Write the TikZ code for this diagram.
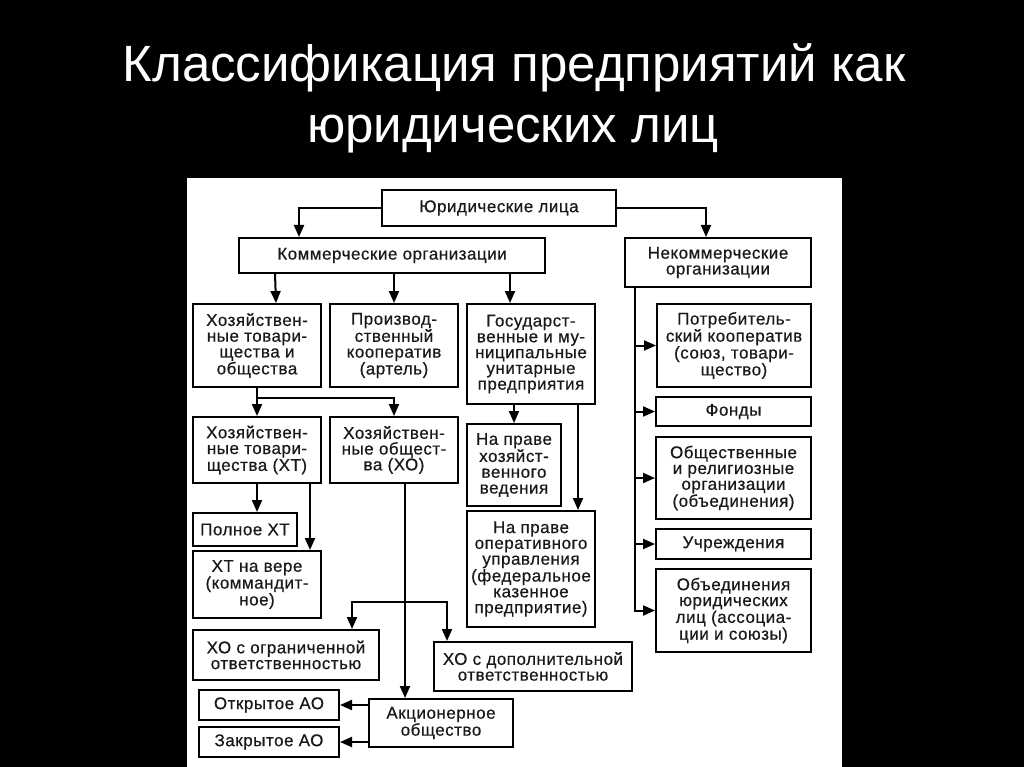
\documentclass[tikz,border=0pt]{standalone}
\usepackage{fontspec}
\setmainfont{Liberation Sans}
\newfontfamily\boxfont{Liberation Sans}[FakeBold=0.5,LetterSpace=3]
\usetikzlibrary{arrows.meta}
\begin{document}
\begin{tikzpicture}[x=1pt,y=-1pt,
  box/.style={draw=black, line width=2pt, fill=white, align=center, inner sep=0pt,
    font=\boxfont\fontsize{17}{15.8}\selectfont, text=black!90},
  arr/.style={line width=2pt, -{Triangle[length=12pt,width=10pt]}},
  ttl/.style={text=white, font=\fontsize{51}{60}\selectfont, anchor=base, inner sep=0pt}]
\useasboundingbox (0,0) rectangle (1024,767);
\fill[black] (0,0) rectangle (1024,767);
\fill[white] (187,178) rectangle (842,767);
\node[ttl] (t1) at (514,82) {Классификация предприятий как};
\node[ttl] (t2) at (513,143) {юридических лиц};
% boxes
\node[box, minimum width=234, minimum height=36] (jur) at (499,208) {Юридические лица};
\node[box, minimum width=306, minimum height=35] (kom) at (392,255.5) {Коммерческие организации};
\node[box, minimum width=186, minimum height=49] (nekom) at (718,262.5) {Некоммерческие\\организации};
\node[box, minimum width=128, minimum height=83] (hto) at (257,345.5) {Хозяйствен-\\ные товари-\\щества и\\общества};
\node[box, minimum width=128, minimum height=83] (pk) at (394,345.5) {Производ-\\ственный\\кооператив\\(артель)};
\node[box, minimum width=128, minimum height=100] (gmup) at (531,354) {Государст-\\венные и му-\\ниципальные\\унитарные\\предприятия};
\node[box, minimum width=154, minimum height=83] (potr) at (734,345.5) {Потребитель-\\ский кооператив\\(союз, товари-\\щество)};
\node[box, minimum width=155, minimum height=29] (fondy) at (733.5,411.5) {Фонды};
\node[box, minimum width=155, minimum height=82] (obsh) at (733.5,478) {Общественные\\и религиозные\\организации\\(объединения)};
\node[box, minimum width=155, minimum height=30] (uchr) at (733.5,544) {Учреждения};
\node[box, minimum width=155, minimum height=83] (obyed) at (733.5,610.5) {Объединения\\юридических\\лиц (ассоциа-\\ции и союзы)};
\node[box, minimum width=128, minimum height=66] (ht) at (257,450) {Хозяйствен-\\ные товари-\\щества (ХТ)};
\node[box, minimum width=128, minimum height=66] (ho) at (394,450) {Хозяйствен-\\ные общест-\\ва (ХО)};
\node[box, minimum width=94, minimum height=82] (phv) at (514,465) {На праве\\хозяйст-\\венного\\ведения};
\node[box, minimum width=128, minimum height=116] (pou) at (531,569) {На праве\\оперативного\\управления\\(федеральное\\казенное\\предприятие)};
\node[box, minimum width=104, minimum height=33] (polnoe) at (245,529.5) {Полное ХТ};
\node[box, minimum width=128, minimum height=67] (vera) at (257,584.5) {ХТ на вере\\(коммандит-\\ное)};
\node[box, minimum width=186, minimum height=50] (hoogr) at (286,655) {ХО с ограниченной\\ответственностью};
\node[box, minimum width=198, minimum height=49] (hodop) at (533,666.5) {ХО с дополнительной\\ответственностью};
\node[box, minimum width=144, minimum height=48] (ao) at (441,723) {Акционерное\\общество};
\node[box, minimum width=140, minimum height=30] (oao) at (269,705) {Открытое АО};
\node[box, minimum width=140, minimum height=30] (zao) at (269,742) {Закрытое АО};
% connectors
\draw[arr] (jur.west) -| ([xshift=61pt]kom.north west);
\draw[arr] (jur.east) -| ([xshift=82pt]nekom.north west);
\draw[arr] ([xshift=37pt]kom.south west) -- ([xshift=19pt]hto.north);
\draw[arr] (pk.north |- kom.south) -- (pk.north);
\draw[arr] ([xshift=118pt]kom.south) -- ([xshift=-21pt]gmup.north);
% non-commercial trunk
\coordinate (nt) at ([xshift=11pt]nekom.south west);
\draw[arr] (nt) |- (obyed.west);
\foreach \b in {potr,fondy,obsh,uchr} \draw[arr] (nt |- \b.west) -- (\b.west);
% economic partnerships and companies
\coordinate (hj) at ([yshift=-10pt]hto.south);
\draw[arr] (hto.south) -- (ht.north);
\draw[arr] (hj) -| (ho.north);
\draw[arr] (ht.south) -- (ht.south |- polnoe.north);
\draw[arr] ([xshift=-12pt]ht.south east) -- ([xshift=-12pt]vera.north east);
\draw[arr] ([xshift=11pt]ho.south) -- ([xshift=-36pt]ao.north);
\coordinate (hb) at ([xshift=11pt,yshift=-118pt]ho.south);
\draw[arr] (hb) -| ([xshift=160pt]hoogr.north west);
\draw[arr] (hb) -| ([xshift=14pt]hodop.north west);
\draw[arr] (ao.west |- oao.east) -- (oao.east);
\draw[arr] (ao.west |- zao.east) -- (zao.east);
% unitary enterprises
\draw[arr] (phv.north |- gmup.south) -- (phv.north);
\draw[arr] ([xshift=47pt]gmup.south) -- ([xshift=47pt]pou.north);
\end{tikzpicture}
\end{document}
